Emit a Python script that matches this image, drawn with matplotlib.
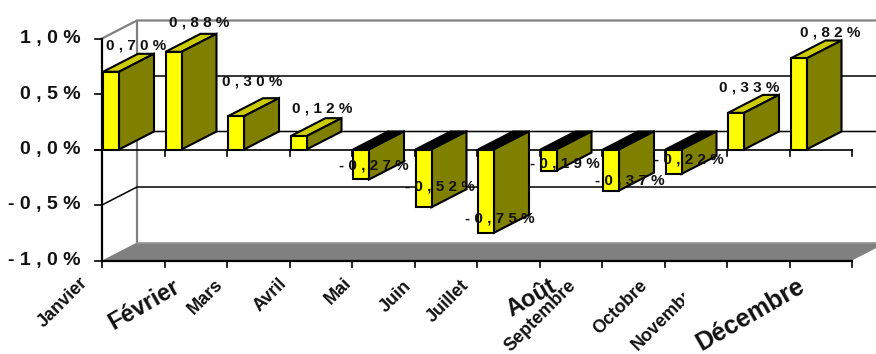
import matplotlib
matplotlib.use("Agg")
import matplotlib.pyplot as plt
from matplotlib.patches import Rectangle

plt.rcParams["font.family"] = ["Liberation Sans", "DejaVu Sans"]
plt.rcParams["font.weight"] = "bold"

months = ["Janvier", "Février", "Mars", "Avril", "Mai", "Juin", "Juillet",
          "Août", "Septembre", "Octobre", "Novembre", "Décembre"]
values = [0.70, 0.88, 0.30, 0.12, -0.27, -0.52, -0.75, -0.19, -0.37, -0.22, 0.33, 0.82]
y_ticks = [-1.0, -0.5, 0.0, 0.5, 1.0]

# label placement, in pixels from the bar's corner
label_dx = [34.5, 34.5, 25, 33, 21.5, 25, 22.5, 25, 27.5, 24, 22, 40.5]
label_dy = [26.8, 29.8, 35, 28, 13.5, 21, 14.7, 6.6, 9.6, 14, 25, 25.5]
month_dx = [-17, 13.5, -7, -5.5, -3, -5.5, -11, 15.5, -29, -19.5, -30, 13.5]
month_dy = [-20, -25, -22, -20, -20, -23, -22, -24, -23, -23, -25, -24]
month_size = [13, 17, 13, 13, 13, 13, 13, 17, 13, 13, 13, 18]
month_rot = [45, 30, 45, 45, 45, 45, 45, 30, 45, 45, 45, 30]

YELLOW = "#ffff00"
OLIVE = "#808000"
TOPC = "#cccc00"
GRAY = "#808080"

PX_X = 62.5
PX_Y = 111.0
X0 = 102.0
Y0 = 149.5
DEPTH_X = 35 / PX_X
DEPTH_Y = 18 / PX_Y
BAR_W = 16 / PX_X
N = len(months)


def spaced(txt):
    return " ".join(txt)


def pct(v, dec):
    return spaced(f"{v:.{dec}f}".replace(".", ",") + "%")


def main():
    fig = plt.figure(figsize=(8.76, 3.54), dpi=100)
    ax = fig.add_axes([0, 0, 1, 1])
    ax.set_xlim(-X0 / PX_X, (876 - X0) / PX_X)
    ax.set_ylim((Y0 - 354) / PX_Y, Y0 / PX_Y)
    ax.axis("off")

    # floor
    ax.fill([0, N, N + DEPTH_X, DEPTH_X], [-1, -1, -1 + DEPTH_Y, -1 + DEPTH_Y],
            color=GRAY, lw=0, zorder=1)
    # back wall and grid
    ax.plot([0, DEPTH_X, N + DEPTH_X], [1, 1 + DEPTH_Y, 1 + DEPTH_Y], color=GRAY, lw=1.6, zorder=2)
    ax.plot([DEPTH_X, DEPTH_X], [-1 + DEPTH_Y, 1 + DEPTH_Y], color=GRAY, lw=1.6, zorder=2)
    ax.plot([DEPTH_X, N + DEPTH_X], [-1 + DEPTH_Y, -1 + DEPTH_Y], color="#999999", lw=1.2, zorder=2)
    for v in y_ticks[1:-1]:
        ax.plot([0, DEPTH_X, N + DEPTH_X], [v, v + DEPTH_Y, v + DEPTH_Y], color="black", lw=1.1, zorder=2)

    # front axes
    ax.plot([0, 0], [-1, 1], color="black", lw=1.6, zorder=3)
    ax.plot([0, N], [-1, -1], color="black", lw=1.6, zorder=3)
    ax.plot([-7 / PX_X, N], [0, 0], color="black", lw=1.2, zorder=3)
    for i in range(N + 1):
        ax.plot([i, i], [0, -6 / PX_Y], color="black", lw=1.2, zorder=3)
        ax.plot([i, i], [-1, -1 - 6 / PX_Y], color="black", lw=1.2, zorder=3)
    for v in y_ticks:
        ax.plot([-7 / PX_X, 0], [v, v], color="black", lw=1.2, zorder=3)
        ax.text(-21 / PX_X, v, pct(v, 1), ha="right", va="center", fontsize=14, color="#111111")

    # bars
    for i, v in enumerate(values):
        x = i + 1 / PX_X
        z = 4 + i * 0.01
        edge = dict(edgecolor="black", lw=1.5, zorder=z)
        top = TOPC if v > 0 else "black"
        ax.fill([x, x + BAR_W, x + BAR_W + DEPTH_X, x + DEPTH_X],
                [max(v, 0), max(v, 0), max(v, 0) + DEPTH_Y, max(v, 0) + DEPTH_Y],
                facecolor=top, **edge)
        ax.fill([x + BAR_W, x + BAR_W + DEPTH_X, x + BAR_W + DEPTH_X, x + BAR_W],
                [0, DEPTH_Y, v + DEPTH_Y, v], facecolor=OLIVE, **edge)
        ax.fill([x, x + BAR_W, x + BAR_W, x], [0, 0, v, v], facecolor=YELLOW, **edge)

    for i, v in enumerate(values):
        ax.annotate(pct(v, 2), xy=(i, v), xytext=(label_dx[i], label_dy[i]),
                    textcoords="offset pixels", ha="center", va="center",
                    fontsize=11, color="#111111", zorder=6)

    # month labels
    for i, m in enumerate(months):
        t = ax.annotate(m, xy=(i, -1), xytext=(month_dx[i], month_dy[i]),
                        textcoords="offset pixels", ha="right", va="center",
                        rotation=month_rot[i], rotation_mode="anchor",
                        fontsize=month_size[i], color="#111111", zorder=6)
        if m == "Novembre":
            # the label is cut off in the source picture
            t.set_clip_path(Rectangle((0, 0), 684, 354, transform=None))
            t.set_clip_on(True)

    fig.savefig("out.png", dpi=100)


if __name__ == "__main__":
    main()
